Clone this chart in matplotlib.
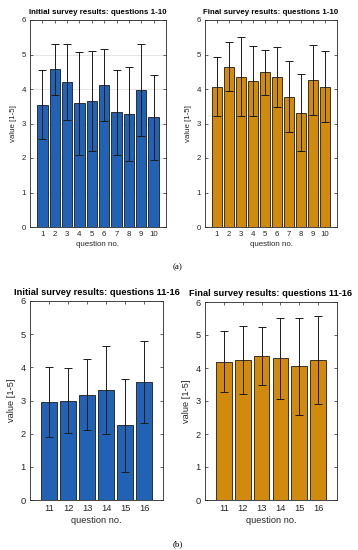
import matplotlib
matplotlib.use('Agg')
import matplotlib.pyplot as plt
import numpy as np

plt.rcParams['font.family'] = ['Liberation Sans', 'DejaVu Sans']

# ===== data =====
q_a = [1, 2, 3, 4, 5, 6, 7, 8, 9, 10]
init_a = [3.55, 4.57, 4.19, 3.58, 3.65, 4.11, 3.32, 3.27, 3.96, 3.18]
init_a_sd = [1.01, 0.73, 1.10, 1.49, 1.44, 1.05, 1.24, 1.37, 1.33, 1.24]
final_a = [4.07, 4.65, 4.36, 4.23, 4.48, 4.35, 3.78, 3.31, 4.26, 4.07]
final_a_sd = [0.85, 0.72, 1.14, 1.01, 0.66, 0.86, 1.02, 1.12, 1.01, 1.02]

q_b = [11, 12, 13, 14, 15, 16]
init_b = [2.95, 3.00, 3.18, 3.31, 2.25, 3.55]
init_b_sd = [1.06, 0.97, 1.07, 1.32, 1.40, 1.23]
final_b = [4.19, 4.24, 4.37, 4.29, 4.05, 4.24]
final_b_sd = [0.92, 1.04, 0.87, 1.22, 1.46, 1.34]

blue = '#2262b4'
orange = '#d18a0c'

fig = plt.figure(figsize=(3.58, 5.5), dpi=100)
W, H = 358, 550

def make_ax(x0, y0, x1, y1):
    return fig.add_axes([x0 / W, 1 - y1 / H, (x1 - x0) / W, (y1 - y0) / H])

panels = [
    (make_ax(30, 20, 166, 227), q_a, init_a, init_a_sd, blue, 'Initial survey results: questions 1-10', (0, 11), True, 5.7),
    (make_ax(205, 20, 337, 227), q_a, final_a, final_a_sd, orange, 'Final survey results: questions 1-10', (0, 11), False, 5.7),
    (make_ax(30, 301, 163, 500), q_b, init_b, init_b_sd, blue, 'Initial survey results: questions 11-16', (10, 17), False, 6.7),
    (make_ax(205, 302, 337, 500), q_b, final_b, final_b_sd, orange, 'Final survey results: questions 11-16', (10, 17), False, 6.7),
]

for ax, q, vals, sd, col, title, xl, grid, fs in panels:
    if grid:
        ax.yaxis.grid(True, color='#e0e0e0', linewidth=0.6)
        ax.set_axisbelow(True)
    ax.bar(q, vals, width=0.84, color=col, edgecolor='#1a1a1a', linewidth=0.6, zorder=2)
    ax.errorbar(q, vals, yerr=sd, fmt='none', ecolor='#1a1a1a', elinewidth=0.7,
                capsize=3, capthick=0.7, zorder=3)
    ax.set_xlim(*xl)
    ax.set_ylim(0, 6)
    ax.set_xticks(q)
    ax.set_yticks(range(7))
    ax.tick_params(direction='in', length=2.5, width=0.5, labelsize=fs,
                   top=True, right=True, colors='#262626', pad=3)
    for s in ax.spines.values():
        s.set_linewidth(0.6)
        s.set_color('#262626')
    ax.set_title(title, fontsize=fs, fontweight='bold', pad=4)
    ax.set_xlabel('question no.', fontsize=fs, color='#262626', labelpad=2)
    ax.set_ylabel('value [1-5]', fontsize=fs, color='#262626', labelpad=3)

fig.text(178 / W, 1 - 267 / H, '(a)', fontsize=6.5, family='Liberation Serif', ha='center', va='center')
fig.text(178 / W, 1 - 544 / H, '(b)', fontsize=6.5, family='Liberation Serif', ha='center', va='center')

fig.savefig('out.png', dpi=100)
